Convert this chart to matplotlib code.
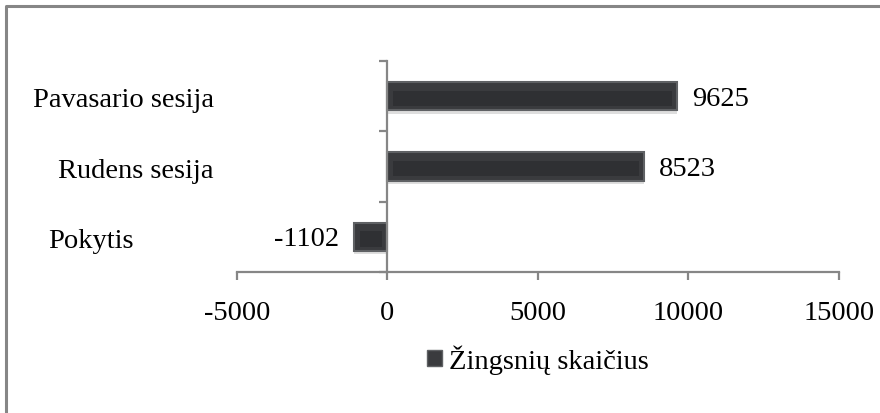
import numpy as np
import matplotlib
matplotlib.use('Agg')
import matplotlib.pyplot as plt
import matplotlib.transforms as mtransforms
from matplotlib.lines import Line2D
from matplotlib.patches import Patch

# --- DATA (bottom to top, as drawn) ---
categories = ['Pokytis', 'Rudens sesija', 'Pavasario sesija']
values = [-1102, 8523, 9625]
series_name = 'Žingsnių skaičius'
x_ticks = [-5000, 0, 5000, 10000, 15000]

# --- STYLE ---
plt.rcParams['font.family'] = ['Liberation Serif', 'DejaVu Serif']
FS = 20.5
TXT = '#000000'
AXIS_GREY = '#868686'
BAR_EDGE = '#5f6164'
BAR_FACE = '#3a3b3e'
BAR_CORE = '#2f3033'
SHADOW = '#c9c9c9'
label_right = [0.152, 0.243, 0.243]   # right edge of category labels (fig coords)

fig = plt.figure(figsize=(8.8, 4.14), dpi=100)
ax = fig.add_axes([0.2693, 0.3406, 0.6841, 0.5096])

ypos = np.arange(len(categories))
bar_h = 0.40

# soft drop shadow under each bar
ax.barh(ypos - 0.05, values, height=bar_h, color=SHADOW, alpha=0.6, zorder=1)
# bevelled bar: lighter rim + darker core
ax.barh(ypos, values, height=bar_h, color=BAR_FACE, edgecolor=BAR_EDGE,
        linewidth=1.5, zorder=2)
inset = 180
core = [np.sign(v) * max(abs(v) - 2 * inset, 0) for v in values]
core_left = [np.sign(v) * inset for v in values]
ax.barh(ypos - 0.03, core, left=core_left, height=bar_h * 0.55,
        color=BAR_CORE, linewidth=0, zorder=3)

# value labels
for y, v in zip(ypos, values):
    ax.annotate(str(v), xy=(v, y - 0.03), xytext=(11 if v >= 0 else -11, 0),
                textcoords='offset points', va='center',
                ha='left' if v >= 0 else 'right', fontsize=FS, color=TXT)

# category labels, placed to the left of the plot area
trans = mtransforms.blended_transform_factory(fig.transFigure, ax.transData)
for y, name, xr in zip(ypos, categories, label_right):
    ax.text(xr, y - 0.05, name, transform=trans, ha='right', va='center',
            fontsize=FS, color=TXT)

ax.set_xlim(x_ticks[0], x_ticks[-1])
ax.set_ylim(-0.5, len(categories) - 0.5)
ax.set_xticks(x_ticks)
ax.set_xticklabels([str(t) for t in x_ticks], fontsize=FS, color=TXT)
ax.set_yticks(np.arange(len(categories) + 1) - 0.5)
ax.set_yticklabels([])

for s in ['top', 'right']:
    ax.spines[s].set_visible(False)
ax.spines['left'].set_position(('data', 0))
for s in ['left', 'bottom']:
    ax.spines[s].set_color(AXIS_GREY)
    ax.spines[s].set_linewidth(1.6)
ax.tick_params(axis='x', direction='out', length=6, width=1.6,
               color=AXIS_GREY, pad=14)
ax.tick_params(axis='y', direction='out', length=6, width=1.6,
               color=AXIS_GREY)

handle = Patch(facecolor=BAR_FACE, edgecolor=BAR_EDGE, linewidth=1.0)
ax.legend([handle], [series_name], loc='center', bbox_to_anchor=(0.5, -0.415),
          frameon=False, fontsize=FS, handlelength=0.5, handleheight=0.5,
          handletextpad=0.25, borderaxespad=0)

# outer chart border (only left and top edges are inside the crop)
bx, by = 0.0068, 0.984
fig.add_artist(Line2D([bx, bx, 1.0], [0.0, by, by], transform=fig.transFigure,
                      color=AXIS_GREY, linewidth=2.2))

fig.savefig('out.png', dpi=100, facecolor='white')
